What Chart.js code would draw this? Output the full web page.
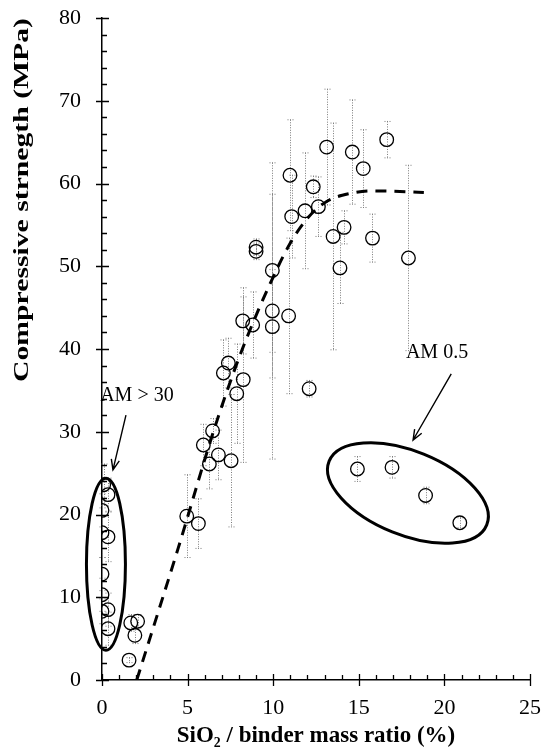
<!DOCTYPE html>
<html lang="en">
<head>
<meta charset="utf-8">
<title>Compressive strength vs SiO2 / binder</title>
<script src="https://cdn.jsdelivr.net/npm/chart.js"></script>
<style>
  html, body { margin: 0; padding: 0; background: #fff; }
</style>
</head>
<body>
<canvas id="strengthChart" width="541" height="756"></canvas>
<script>
// measured mixes: SiO2 / binder ratio (%), strength (MPa) and its error (MPa)
const ratio = [0.1, 0.35, 0, 0, 0.35, 0, 0, 0, 0.35, 0.35,
  1.68, 2.08, 1.92, 1.58,
  4.95, 5.63, 5.92, 6.27, 6.46, 6.8, 7.09, 7.38, 7.54, 7.87, 8.25, 8.22, 8.8, 9.0, 9.0,
  9.95, 9.95, 9.95, 10.98, 11.08, 10.9, 11.86, 12.34, 12.64, 13.12, 13.5, 13.9, 14.14,
  14.62, 15.26, 15.8, 16.63, 17.9, 12.1,
  14.92, 16.94, 18.9, 20.9];
const strength = [23.6, 22.4, 20.5, 17.8, 17.3, 12.8, 10.3, 8.3, 8.5, 6.2,
  6.9, 7.1, 5.4, 2.4,
  19.8, 18.9, 28.4, 26.1, 30.1, 27.2, 37.1, 38.3, 26.5, 34.6, 36.3, 43.4, 42.9, 52.3, 51.8,
  49.5, 44.6, 42.7, 61.0, 56.0, 44.0, 56.7, 59.6, 57.2, 64.4, 53.6, 49.8, 54.7,
  63.8, 61.8, 53.4, 65.3, 51.0, 35.2,
  25.5, 25.7, 22.3, 19.0];
const strengthErr = [2.5, 2, 2, 3, 3, 2, 2, 1.5, 2, 2,
  1, 0.8, 1, 0.3,
  5, 3, 2.5, 3, 1.5, 3, 4, 3, 8, 6, 10, 4, 4, 1, 1,
  13, 5, 16, 6.7, 5, 9.4, 7, 1.3, 3.6, 7, 13.7, 4.3, 2,
  6.3, 4.7, 2.9, 2.2, 11.2, 1,
  1.5, 1.3, 1, 0.6];

// dashed trend curve
const fitRatio = [2.03, 4.46, 6.6, 8.2, 10, 11, 12, 13.1, 14.5, 15.8, 17.8, 18.8];
const fitStrength = [0, 16, 30.6, 40.0, 48.7, 52.8, 55.8, 57.8, 58.8, 59.1, 59.0, 58.9];

const xTicks = [0, 5, 10, 15, 20, 25];
const yTicks = [0, 10, 20, 30, 40, 50, 60, 70, 80];

const serif = "'Liberation Serif', 'Times New Roman', serif";

// callouts (data units for anchors, px for shapes)
const ellipses = [
  { x: 0.23, y: 14.0, rx: 19.5, ry: 86, rot: 0 },
  { x: 17.87, y: 22.6, rx: 85, ry: 42, rot: 22 }
];
const callouts = [
  { text: 'AM > 30', x: 2.04, y: 34.3, from: [1.4, 32.0], to: [0.64, 25.4] },
  { text: 'AM 0.5', x: 19.57, y: 39.6, from: [20.4, 37.0], to: [18.17, 29.0] }
];

const points = ratio.map((r, i) => ({ x: r, y: strength[i] }));
const fitLine = fitRatio.map((r, i) => ({ x: r, y: fitStrength[i] }));

const errorBars = {
  id: 'errorBars',
  beforeDatasetsDraw(chart) {
    const { ctx, scales: { x, y } } = chart;
    ctx.save();
    ctx.strokeStyle = '#7a7a7a';
    ctx.lineWidth = 1;
    ctx.setLineDash([1, 1.5]);
    points.forEach((p, i) => {
      const e = strengthErr[i];
      const px = Math.round(x.getPixelForValue(p.x)) + 0.5;
      const top = y.getPixelForValue(p.y + e);
      const bot = y.getPixelForValue(Math.max(p.y - e, 0));
      ctx.beginPath();
      ctx.moveTo(px, top); ctx.lineTo(px, bot);
      ctx.moveTo(px - 3, top); ctx.lineTo(px + 3, top);
      ctx.moveTo(px - 3, bot); ctx.lineTo(px + 3, bot);
      ctx.stroke();
    });
    ctx.restore();
  }
};

const annotate = {
  id: 'annotate',
  afterDatasetsDraw(chart) {
    const { ctx, scales: { x, y } } = chart;
    ctx.save();
    ctx.strokeStyle = '#000';
    ctx.lineWidth = 3;
    ellipses.forEach(el => {
      ctx.beginPath();
      ctx.ellipse(x.getPixelForValue(el.x), y.getPixelForValue(el.y), el.rx, el.ry,
        el.rot * Math.PI / 180, 0, Math.PI * 2);
      ctx.stroke();
    });
    ctx.lineWidth = 1.4;
    ctx.fillStyle = '#000';
    ctx.font = '20px ' + serif;
    ctx.textAlign = 'center';
    ctx.textBaseline = 'middle';
    callouts.forEach(c => {
      ctx.fillText(c.text, x.getPixelForValue(c.x), y.getPixelForValue(c.y));
      const x0 = x.getPixelForValue(c.from[0]), y0 = y.getPixelForValue(c.from[1]);
      const x1 = x.getPixelForValue(c.to[0]), y1 = y.getPixelForValue(c.to[1]);
      const a = Math.atan2(y1 - y0, x1 - x0);
      ctx.beginPath();
      ctx.moveTo(x0, y0); ctx.lineTo(x1, y1);
      ctx.moveTo(x1 - 11 * Math.cos(a - 0.38), y1 - 11 * Math.sin(a - 0.38));
      ctx.lineTo(x1, y1);
      ctx.lineTo(x1 - 11 * Math.cos(a + 0.38), y1 - 11 * Math.sin(a + 0.38));
      ctx.stroke();
    });
    ctx.restore();
  }
};

// tick marks: majors cross the axis, minors sit inside
const tickMarks = {
  id: 'tickMarks',
  afterDraw(chart) {
    const { ctx, scales: { x, y } } = chart;
    const ax = x.getPixelForValue(0), ay = y.getPixelForValue(0);
    ctx.save();
    ctx.strokeStyle = '#000';
    ctx.lineWidth = 1.3;
    ctx.beginPath();
    for (let v = 0; v <= 25; v++) {
      const px = Math.round(x.getPixelForValue(v)) + 0.5;
      ctx.moveTo(px, ay - (v % 5 === 0 ? 6 : 5));
      ctx.lineTo(px, ay + (v % 5 === 0 ? 6 : 0));
    }
    for (let v = 0; v <= 80; v += 2) {
      const py = Math.round(y.getPixelForValue(v)) + 0.5;
      ctx.moveTo(ax - (v % 10 === 0 ? 6 : 0), py);
      ctx.lineTo(ax + (v % 10 === 0 ? 7 : 5), py);
    }
    ctx.stroke();

    // y title, drawn stretched like the original
    ctx.fillStyle = '#000';
    ctx.font = 'bold 21px ' + serif;
    ctx.textAlign = 'center';
    ctx.textBaseline = 'middle';
    ctx.translate(23, 200);
    ctx.rotate(-Math.PI / 2);
    const label = 'Compressive strnegth (MPa)';
    const w = ctx.measureText(label).width;
    ctx.scale(364 / w, 1);
    ctx.fillText(label, 0, 0);
    ctx.restore();
  }
};

const ctx = document.getElementById('strengthChart').getContext('2d');
new Chart(ctx, {
  type: 'scatter',
  data: {
    datasets: [
      {
        label: 'Measured',
        data: points,
        pointStyle: 'circle',
        pointRadius: 6.8,
        pointHoverRadius: 6.8,
        borderColor: '#000',
        borderWidth: 1.3,
        backgroundColor: 'rgba(0,0,0,0)'
      },
      {
        type: 'line',
        label: 'Trend',
        data: fitLine,
        borderColor: '#000',
        borderWidth: 3,
        borderDash: [11, 8],
        pointRadius: 0,
        fill: false,
        cubicInterpolationMode: 'monotone'
      }
    ]
  },
  options: {
    responsive: false,
    animation: false,
    devicePixelRatio: 1,
    layout: { padding: { top: 18, right: 11, left: 0, bottom: 0 } },
    plugins: { legend: { display: false }, tooltip: { enabled: false } },
    scales: {
      x: {
        type: 'linear', min: 0, max: 25,
        afterFit: s => { s.height = 76; s.paddingLeft = 0; s.paddingRight = 0; },
        afterBuildTicks: s => { s.ticks = xTicks.map(v => ({ value: v })); },
        grid: { display: false },
        border: { display: true, color: '#000', width: 1.5 },
        ticks: { color: '#000', font: { family: serif, size: 22 }, padding: 7, maxRotation: 0 },
        title: {
          display: true, text: 'SiO₂ / binder mass ratio (%)', color: '#000',
          font: { family: serif, size: 23, weight: 'bold' }, padding: { bottom: 6 }
        }
      },
      y: {
        type: 'linear', min: 0, max: 80,
        afterFit: s => { s.width = 102; s.paddingTop = 0; s.paddingBottom = 0; },
        afterBuildTicks: s => { s.ticks = yTicks.map(v => ({ value: v })); },
        grid: { display: false },
        border: { display: true, color: '#000', width: 1.5 },
        ticks: { color: '#000', font: { family: serif, size: 22 }, padding: 13 }
      }
    }
  },
  plugins: [errorBars, annotate, tickMarks]
});
</script>
</body>
</html>
